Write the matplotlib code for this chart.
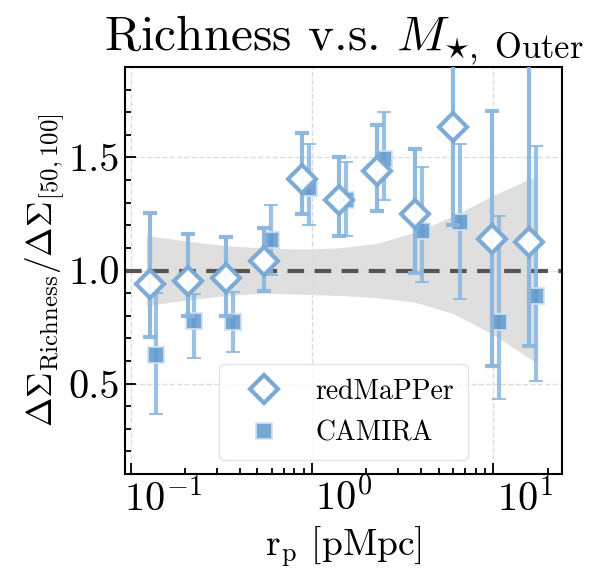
import matplotlib
matplotlib.use("Agg")
import matplotlib.pyplot as plt
from matplotlib.lines import Line2D
from matplotlib.transforms import ScaledTranslation
import numpy as np

plt.rcParams['font.family'] = 'serif'
plt.rcParams['font.serif'] = ['cmr10']
plt.rcParams['mathtext.fontset'] = 'cm'
plt.rcParams['axes.unicode_minus'] = False
plt.rcParams['axes.formatter.use_mathtext'] = True

# radial bins (pMpc)
rp = [0.127, 0.206, 0.335, 0.543, 0.88, 1.41, 2.29, 3.71, 6.0, 9.87, 15.8]
camira_shift = 1.09

# redMaPPer ratio and errors
red_y = [0.941, 0.953, 0.966, 1.040, 1.403, 1.314, 1.438, 1.251, 1.634, 1.140, 1.125]
red_lo = [0.705, 0.80, 0.80, 0.911, 1.248, 1.152, 1.265, 0.99, 1.20, 0.58, 0.668]
red_hi = [1.255, 1.162, 1.147, 1.19, 1.609, 1.501, 1.645, 1.538, 2.10, 1.705, 2.05]

# CAMIRA ratio and errors
cam_y = [0.628, 0.776, 0.771, 1.136, 1.366, 1.314, 1.494, 1.177, 1.214, 0.771, 0.889]
cam_lo = [0.366, 0.614, 0.642, 0.98, 1.202, 1.152, 1.31, 0.948, 0.875, 0.432, 0.513]
cam_hi = [0.90, 0.898, 0.904, 1.292, 1.56, 1.479, 1.70, 1.457, 1.56, 1.239, 1.549]

# shaded band
band_r = [0.122, 0.206, 0.335, 0.543, 0.88, 1.41, 2.29, 3.71, 6.0, 9.87, 17.5]
band_lo = [0.845, 0.87, 0.89, 0.90, 0.895, 0.89, 0.88, 0.86, 0.81, 0.72, 0.59]
band_hi = [1.155, 1.13, 1.11, 1.10, 1.095, 1.10, 1.12, 1.17, 1.24, 1.33, 1.42]

red_y = np.array(red_y)
cam_y = np.array(cam_y)
red_err = [red_y - np.array(red_lo), np.array(red_hi) - red_y]
cam_err = [cam_y - np.array(cam_lo), np.array(cam_hi) - cam_y]
rp_cam = np.array(rp) * camira_shift

fig = plt.figure(figsize=(5.96, 5.81), dpi=100)
ax = fig.add_axes([0.2097, 0.184, 0.7333, 0.7007])

ax.fill_between(band_r, band_lo, band_hi, color='#dcdcdc', alpha=0.9, lw=0, zorder=1)
ax.axhline(1.0, color='#555555', ls='--', lw=3, dashes=(4, 2.5), zorder=2)

ax.errorbar(rp, red_y, yerr=red_err, fmt='D', ms=14, mfc='white', mec='#78a8d4',
            mew=3, ecolor='#8ab6de', elinewidth=3, capsize=5, capthick=2,
            alpha=0.95, zorder=4)
ax.errorbar(rp_cam, cam_y, yerr=cam_err, fmt='s', ms=11, mfc='#5f98cc', mec='#cfe2f3',
            mew=1.5, ecolor='#8ab6de', elinewidth=3, capsize=5, capthick=2,
            alpha=0.85, zorder=3)

ax.set_xscale('log')
ax.set_xlim(0.093, 24)
ax.set_ylim(0.1, 1.9)
ax.set_yticks([0.5, 1.0, 1.5])
ax.set_yticklabels(['0.5', '1.0', '1.5'])
ax.yaxis.set_minor_locator(matplotlib.ticker.MultipleLocator(0.1))
ax.grid(True, which='major', ls='--', color='#dddddd', lw=1)

ax.tick_params(which='both', direction='in', top=False, right=False, labelsize=29, width=1.3)
ax.tick_params(which='major', length=8)
ax.tick_params(which='minor', length=4)
ax.tick_params(axis='x', pad=3)
for s in ax.spines.values():
    s.set_linewidth(1.5)

# x tick labels sit right of their ticks in the original
shift = ScaledTranslation(0.32, 0, fig.dpi_scale_trans)
for lab in ax.get_xticklabels():
    lab.set_transform(lab.get_transform() + shift)

ax.set_xlabel(r'$\mathrm{r_p}$ [pMpc]', fontsize=27, labelpad=4)
ax.set_ylabel(r'$\Delta\Sigma_{\rm Richness}/\Delta\Sigma_{[50,100]}$', fontsize=25.5, labelpad=2)
ax.set_title(r'Richness v.s. $M_{\star,\ \rm Outer}$', fontsize=35.5, pad=12)

handles = [
    Line2D([], [], ls='none', marker='D', ms=14, mfc='white', mec='#78a8d4', mew=3),
    Line2D([], [], ls='none', marker='s', ms=11, mfc='#5f98cc', mec='#cfe2f3', mew=1.5, alpha=0.85),
]
leg = ax.legend(handles, ['redMaPPer', 'CAMIRA'], loc='lower center', fontsize=20,
                frameon=True, fancybox=True, handlelength=2.2, handletextpad=0.75,
                borderpad=0.5, labelspacing=0.55, borderaxespad=0.5)
leg.get_frame().set_edgecolor('#dddddd')

fig.savefig('out.png', dpi=100)
